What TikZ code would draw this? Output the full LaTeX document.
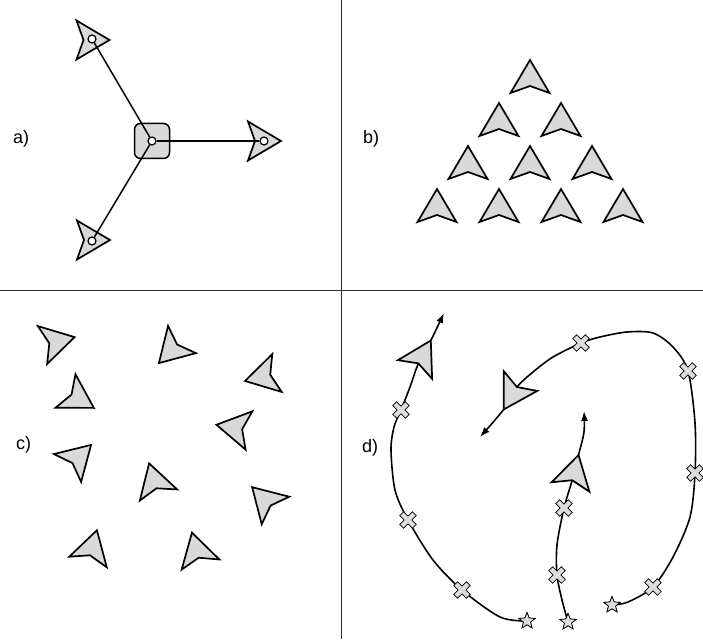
\documentclass[tikz,border=0pt]{standalone}
\usepackage{fontspec}
\setmainfont{Liberation Sans}
\usepackage{tikz}
\usetikzlibrary{arrows.meta,shapes.geometric}
\definecolor{swink}     {HTML}{000000}
\definecolor{swgrey}    {HTML}{D9D9D9}
\definecolor{swmarkgrey}{HTML}{DDDDDD}
\definecolor{swrule}    {HTML}{2B2B2B}
\tikzset{
  swdartline/.style={draw=swink, fill=swgrey, line width=1.7pt, line join=miter},
  pics/dart/.style={code={
    \path[swdartline] (33,0) -- (0,19.5) -- (7,0) -- (0,-19.5) -- cycle;}},
  pics/xmark/.style={code={
    \path[swmark, rotate=45] (2.8,2.8) -- (9,2.8) -- (9,-2.8) -- (2.8,-2.8)
      -- (2.8,-9) -- (-2.8,-9) -- (-2.8,-2.8) -- (-9,-2.8) -- (-9,2.8)
      -- (-2.8,2.8) -- (-2.8,9) -- (2.8,9) -- cycle;}},
  swmark/.style={draw=swink, fill=swmarkgrey, line width=0.7pt},
  swhub/.style={draw=swink, fill=swgrey, line width=1.5pt, rounded corners=6pt,
                minimum size=35pt, inner sep=0pt},
  swport/.style={circle, draw=swink, fill=white, line width=1.2pt,
                 minimum size=8pt, inner sep=0pt},
  swlink/.style={draw=swink, line width=1.5pt},
  swtrail/.style={draw=swink, line width=1.6pt, -{Latex[length=10pt,width=7pt]}},
  swstar/.style={star, star points=5, star point ratio=2.3, minimum size=17pt,
                 inner sep=0pt, swmark},
  swlabel/.style={font=\fontsize{18}{20}\selectfont, anchor=base west, inner sep=0pt},
  swdivider/.style={draw=swrule, line width=1pt},
}

\begin{document}
\begin{tikzpicture}[x=1pt,y=-1pt]
  \useasboundingbox (0,0) rectangle (703,639);
  % quadrant dividers
  \draw[swdivider] (341,0) -- (341,639);
  \draw[swdivider] (0,290) -- (703,290);
  \node[swlabel] (la) at (13,144) {a)};
  \node[swlabel] (lb) at (363,144) {b)};
  \node[swlabel] (lc) at (16,449) {c)};
  \node[swlabel] (ld) at (362,452) {d)};

  % a) hub with three linked agents
  \pic at (76.5,40) {dart};
  \pic at (77,240) {dart};
  \pic at (248,141) {dart};
  \node[swhub] (hub) at (152,141) {};
  \node[swport] (hc) at (152,141) {};
  \node[swport] (pu) at (92,39) {};
  \node[swport] (pd) at (92,241) {};
  \node[swport] (pr) at (264,141) {};
  \draw[swlink] (hc) -- (pu);
  \draw[swlink] (hc) -- (pd);
  \draw[swlink] (hc) -- (pr);

  % b) triangular formation
  \foreach \r in {0,...,3}
    \foreach \c in {0,...,\r}
      \pic[rotate=90] at ({530+(2*\c-\r)*31},{93+43*\r}) {dart};

  % c) random headings
  \foreach \x/\y/\a in {42.5/345/13.8, 182/339.5/225.6, 277/373/194,
                        65.5/391/-30.8, 249/430.5/170, 67.5/468/44.4,
                        158.5/495/106.5, 275.5/510.5/135, 88/562/74.3,
                        200.5/564.5/105}
    \pic[rotate=\a] at (\x,\y) {dart};

  % d) trajectories
  \node[swstar] (s1) at (527,621) {};
  \node[swstar] (s2) at (612,605) {};
  \node[swstar] (s3) at (568,622) {};
  \coordinate (m11) at (462,590);
  \coordinate (m12) at (408,520);
  \coordinate (m13) at (401,410);
  \coordinate (m21) at (653,587);
  \coordinate (m22) at (695,473);
  \coordinate (m23) at (688,371);
  \coordinate (m24) at (581,343);
  \coordinate (m31) at (557,575);
  \coordinate (m32) at (564,508);
  \coordinate (e1) at (444,313);
  \coordinate (e2) at (480,437);
  \coordinate (e3) at (584,411);
  \draw[swtrail] plot[smooth] coordinates {(s1.center) (500,617) (m11) (433,560)
    (m12) (395,490) (391,450) (394,427) (m13) (410,387) (418.4,363.4)
    (430.8,340.5) (e1)};
  \draw[swtrail] plot[smooth] coordinates {(s2.center) (628,602) (m21) (673,557)
    (690,517) (m22) (695,423) (m23) (673,347) (653,333) (627,332) (600,337)
    (m24) (553,357) (533,372) (517,387) (503.7,409.4) (e2)};
  \draw[swtrail] plot[smooth] coordinates {(s3.center) (562,600) (m31) (557,545)
    (m32) (572.2,480.2) (578.5,455) (584,432) (e3)};
  \foreach \m in {m11,m12,m13,m21,m22,m23,m24,m31,m32}
    \pic at (\m) {xmark};
  \node[swstar] at (s1) {};
  \node[swstar] at (s2) {};
  \node[swstar] at (s3) {};
  \pic[rotate=61.4] at (415,369.5) {dart};
  \pic[rotate=239.5] at (520.5,381) {dart};
  \pic[rotate=76] at (570.5,487) {dart};
\end{tikzpicture}
\end{document}
